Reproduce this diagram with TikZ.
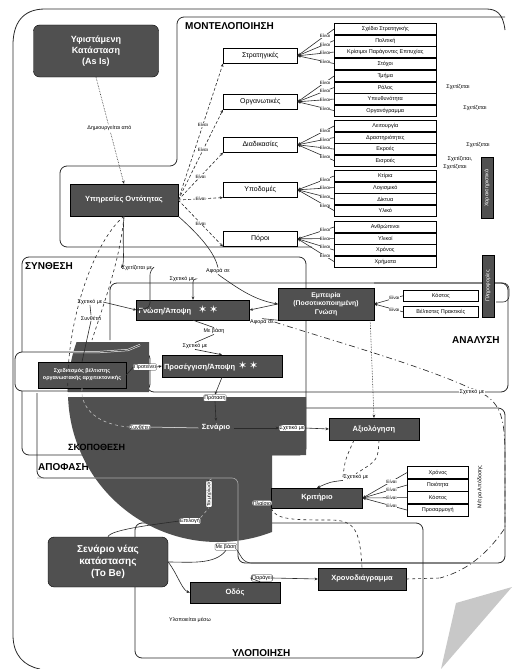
\documentclass[tikz,border=0pt]{standalone}
\usepackage{fontspec}
\setmainfont{Liberation Sans}
\newfontfamily\symfont{DejaVu Sans}
\usetikzlibrary{arrows.meta,calc}
\definecolor{boxgray}{HTML}{505050}
\definecolor{ink}{HTML}{2A2A2A}
\definecolor{curl}{HTML}{C8C8C8}

\begin{document}
\begin{tikzpicture}[x=1pt,y=-1pt,
  region/.style={draw=ink,line width=0.8pt,rounded corners=7pt},
  darkbox/.style={draw=black,fill=boxgray,text=white,align=center,inner sep=1pt,
    font=\bfseries\fontsize{7.5}{8.5}\selectfont},
  topbar/.style={path picture={\draw[line width=2.2pt]
    (path picture bounding box.north west) -- (path picture bounding box.north east);}},
  catbox/.style={draw=black,fill=white,line width=0.6pt,topbar,minimum width=74pt,
    minimum height=15pt,anchor=north west,inner sep=0.5pt,font=\fontsize{7}{8}\selectfont},
  itembox/.style={draw=black,fill=white,line width=0.6pt,topbar,minimum width=102pt,
    minimum height=11.5pt,anchor=north west,inner sep=0.5pt,font=\fontsize{5.5}{6}\selectfont},
  lbl/.style={font=\fontsize{5.4}{6.2}\selectfont,fill=white,inner sep=0.6pt},
  boxlbl/.style={lbl,draw=ink,line width=0.3pt,rounded corners=1pt},
  tiny/.style={font=\fontsize{4.6}{5.2}\selectfont,fill=white,inner sep=0.3pt},
  conn/.style={draw=ink,line width=0.6pt},
  arr/.style={-{Stealth[length=3.2pt,width=2.8pt]}},
  title/.style={font=\bfseries\fontsize{10}{11}\selectfont,anchor=north west,inner sep=0pt},
]
\useasboundingbox (0,0) rectangle (512,669);

% page curl
\fill[curl] (456,603) -- (512,587) -- (441,669) -- cycle;

% outer frame
\draw[ink,line width=0.8pt] (505,30) .. controls (503,13) and (496,9) .. (486,9) -- (45,9)
  .. controls (22,9) and (13,24) .. (13,45) -- (13,635) .. controls (13,655) and (24,666) .. (40,669);

% ---------- regions ----------
\draw[region] (505,17) -- (177,17) -- (177,166) -- (60,166) -- (60,247) -- (312,247);
\node[title] (tmod) at (185,22) {ΜΟΝΤΕΛΟΠΟΙΗΣΗ};

\draw[region,fill=white] (135,523) rectangle (423,658);
\node[title] (tylo) at (232,649) {ΥΛΟΠΟΙΗΣΗ};

\draw[region] (22,257) rectangle (306,455);
\node[title] (tsyn) at (25,262) {ΣΥΝΘΕΣΗ};

\draw[region] (110,340) -- (110,283) -- (508,283) -- (508,392) -- (147,392) -- (147,350);
\node[title] (tana) at (452,336) {ΑΝΑΛΥΣΗ};

\draw[region] (37,393) -- (37,478) -- (238,478) -- (238,563) -- (505,563) -- (505,408) -- (306,408);
\node[title] (tapo) at (38,463) {ΑΠΟΦΑΣΗ};

% surround of the architecture box
\draw[region,fill=white] (15,352) rectangle (150,391);

% large dark disc, visible only through the lower part of the picture
\begin{scope}
  \clip (62,342) rectangle (149,392) (55,397) rectangle (306,455) (55,455) rectangle (272,560);
  \fill[boxgray] (218,392) circle (150pt);
\end{scope}
\draw[white,line width=0.5pt,double=boxgray,double distance=1pt] (70,352) -- (100,352) -- (128,350) -- (140,345);
\draw[ink!40,line width=0.6pt,rounded corners=6pt] (37,478) -- (238,478) -- (238,545);
\node[font=\bfseries\fontsize{9}{10}\selectfont,inner sep=0pt,anchor=west] (tsko) at (68,447) {ΣΚΟΠΟΘΕΣΗ};

% ---------- top: current state ----------
\node[darkbox,rounded corners=6pt,minimum width=125pt,minimum height=52pt,
  font=\bfseries\fontsize{9}{11}\selectfont] (asis) at (96,51) {Υφιστάμενη\\Κατάσταση\\(As Is)};
\node[darkbox,minimum width=108pt,minimum height=32pt] (yp) at (124,200) {Υπηρεσίες Οντότητας};
\draw[conn,densely dotted,arr] (asis.south) -- (yp.north) node[lbl,pos=0.48] {Δημιουργείται από};

% ---------- categories ----------
\node[catbox] (cs) at (223,48) {Στρατηγικές};
\node[catbox] (co) at (223,94) {Οργανωτικές};
\node[catbox] (cd) at (223,137) {Διαδικασίες};
\node[catbox] (cy) at (223,182) {Υποδομές};
\node[catbox] (cp) at (223,231) {Πόροι};

\node[itembox] (s1) at (334,23) {Σχέδιο Στρατηγικής};
\node[itembox] (s2) at (334,34.5) {Πολιτική};
\node[itembox] (s3) at (334,46) {Κρίσιμοι Παράγοντες Επιτυχίας};
\node[itembox] (s4) at (334,57.5) {Στόχοι};

\node[itembox] (o1) at (334,70) {Τμήμα};
\node[itembox] (o2) at (334,81.5) {Ρόλος};
\node[itembox] (o3) at (334,93) {Υπευθυνότητα};
\node[itembox] (o4) at (334,104.5) {Οργανόγραμμα};

\node[itembox] (d1) at (334,120) {Λειτουργία};
\node[itembox] (d2) at (334,131.5) {Δραστηριότητες};
\node[itembox] (d3) at (334,143) {Εκροές};
\node[itembox] (d4) at (334,154.5) {Εισροές};

\node[itembox] (y1) at (334,170) {Κτίρια};
\node[itembox] (y2) at (334,181.5) {Λογισμικό};
\node[itembox] (y3) at (334,193) {Δίκτυα};
\node[itembox] (y4) at (334,204.5) {Υλικό};

\node[itembox] (p1) at (334,221) {Ανθρώπινοι};
\node[itembox] (p2) at (334,232.5) {Υλικοί};
\node[itembox] (p3) at (334,244) {Χρόνος};
\node[itembox] (p4) at (334,255.5) {Χρήματα};

\foreach \g/\c in {s/cs,o/co,d/cd,y/cy,p/cp}{
  \foreach \k in {1,...,4}{
    \draw[conn,arr] (\g\k.west) -- (\c.east) node[tiny,pos=0.25] {Είναι};
  }
}

\foreach \c/\p in {cs/0.55,co/0.55,cd/0.5,cy/0.5,cp/0.5}{
  \draw[conn,densely dashed,arr] (yp.east) -- (\c.south west) node[tiny,pos=\p] {Είναι};
}

\node[lbl] (r1) at (458,87) {Σχετίζεται};
\node[lbl] (r2) at (475,108) {Σχετίζεται};
\node[lbl] (r3) at (478,145) {Σχετίζεται};
\node[lbl] (r4) at (460,159) {Σχετίζεται,};
\node[lbl] (r5) at (455,167) {Σχετίζεται};
\node[darkbox,rotate=90,minimum width=61pt,minimum height=12pt,
  font=\fontsize{5.4}{6}\selectfont] (vchar) at (487,188) {Χαρακτηριστικά};

% ---------- synthesis ----------
\node[darkbox,minimum width=113pt,minimum height=20pt,text width=109pt,align=left] (gn) at (193,310)
  {Γνώση/Άποψη\hspace{7pt}{\symfont\fontsize{11}{11}\selectfont ✶\,✶}};
\node[darkbox,minimum width=120pt,minimum height=22pt,text width=116pt,align=left] (pr) at (222,366)
  {Προσέγγιση/Άποψη\hspace{3pt}{\symfont\fontsize{11}{11}\selectfont ✶\,✶}};
\node[darkbox,minimum width=96pt,minimum height=32pt,font=\bfseries\fontsize{6.8}{8.2}\selectfont] (emp) at (326,304)
  {Εμπειρία\\(Ποσοτικοποιημένη)\\Γνώση};
\node[darkbox,minimum width=88pt,minimum height=26pt,font=\bfseries\fontsize{5.4}{7}\selectfont] (sa) at (82,375)
  {Σχεδιασμός βέλτιστης\\οργανωσιακής αρχιτεκτονικής};

\node[itembox,minimum width=75pt,minimum height=11pt] (e1) at (403,290) {Κόστος};
\node[itembox,minimum width=75pt,minimum height=11pt] (e2) at (403,306) {Βέλτιστες Πρακτικές};
\draw[conn,arr] (e1.west) -- (emp.east) node[tiny,pos=0.3] {Είναι};
\draw[conn,arr] (e2.west) -- (emp.east) node[tiny,pos=0.3] {Είναι};
\draw[ink,line width=0.6pt,rounded corners=6pt] (374,283) -- (509,283) -- (509,302) -- (496,302);
\node[darkbox,rotate=90,minimum width=62pt,minimum height=12pt,
  font=\fontsize{5.4}{6}\selectfont] (vinfo) at (488,286) {Πληροφορίες};

\node[lbl] (l1) at (137,268) {Σχετίζεται με};
\node[lbl] (l2) at (182,279) {Σχετικό με};
\node[lbl] (l3) at (90,302) {Σχετικό με};
\node[lbl] (l4) at (91,318) {Συνθέτει};
\node[lbl] (l5) at (214,331) {Με βάση};
\node[lbl] (l6) at (195,346) {Σχετικό με};
\node[lbl] (l7) at (262,322) {Αφορά σε};
\node[lbl] (l8) at (218,271) {Αφορά σε};
\node[boxlbl] (l9) at (145,367) {Προτείνει};

\draw[conn,arr] (yp.south) .. controls (122,245) and (125,262) .. (l1.west);
\draw[conn,arr,rounded corners=5pt] (l1.east) -- (150,270) -- (150,308) -- (gn.west);
\draw[conn] (yp.south east) .. controls (205,240) and (215,255) .. (l8.north);
\draw[conn,arr] (l8.south) .. controls (240,290) and (255,300) .. (emp.west);
\draw[conn,arr,rounded corners=3pt] (l2.east) -| (gn.north);
\draw[conn,arr] (l3.east) -- (gn.west);
\draw[conn] (l4.south) -- (sa.north);
\draw[conn] (l4.north) -- (l3.south);
\draw[conn,arr] (emp.west) -- (gn.east);
\draw[conn] (gn.south) -- (l5.north);
\draw[conn] (l5.south) -- (l6.north);
\draw[conn,arr] (l6.south) -- (pr.north);
\draw[conn] (sa.east) -- (l9.west);
\draw[conn,arr] (l9.east) -- (pr.west);
\draw[conn] (emp.south west) -- (l7.north);

% dashed sweeps on the left side
\draw[ink,line width=0.6pt,dashed] (yp.south) .. controls (95,240) and (65,320) .. (68,395);
\draw[ink,line width=0.6pt,dashed] (yp.south) .. controls (120,260) and (105,300) .. (92,340);

% ---------- decision ----------
\node[text=white,font=\bfseries\fontsize{7.5}{8.5}\selectfont] (sn) at (216,428) {Σενάριο};
\node[boxlbl] (l10) at (215,398) {Πρόταση};
\node[boxlbl] (l11) at (140,427) {Συνθέτει};
\node[boxlbl] (l12) at (292,428) {Σχετικό με};
\draw[conn,arr] (pr.south) -- (l10.north);
\draw[conn,arr] (l10.south) -- (sn.north);
\draw[white!75!black,line width=0.6pt,dashed] (sa.south) .. controls (80,410) and (100,425) .. (l11.west);
\draw[white,line width=0.5pt] (l11.east) -- (sn.west);

\node[darkbox,minimum width=90pt,minimum height=22pt] (avx) at (374,429) {Αξιολόγηση};
\node[darkbox,minimum width=91pt,minimum height=20pt] (kr) at (317,498) {Κριτήριο};
\draw[conn,arr] (sn.east) -- (l12.west);
\draw[conn,arr] (l12.east) -- (avx.west);
\draw[ink,line width=0.6pt,densely dotted,arr] (emp.south east) ++(-4,0) -- (avx.north);

\node[itembox,minimum width=61pt,minimum height=12.5pt] (k1) at (407,466) {Χρόνος};
\node[itembox,minimum width=61pt,minimum height=12.5pt] (k2) at (407,478.5) {Ποιότητα};
\node[itembox,minimum width=61pt,minimum height=12.5pt] (k3) at (407,491) {Κόστος};
\node[itembox,minimum width=61pt,minimum height=12.5pt] (k4) at (407,503.5) {Προσαρμογή};
\foreach \k in {1,...,4}{
  \draw[conn,arr] (k\k.west) -- (kr.east) node[tiny,pos=0.35] {Είναι};
}
\node[rotate=90,font=\fontsize{5.4}{6}\selectfont,inner sep=0pt] (vmes) at (480,487) {Μέτρα Απόδοσης};

\node[lbl] (l13) at (356,477) {Σχετικό με};
\draw[conn,dashed] (avx.south) ++(-20,0) .. controls (345,460) .. (l13.west);
\draw[conn,dashed] (avx.south) ++(5,0) .. controls (378,460) .. (l13.north);
\draw[conn,arr] (l13.south west) .. controls (330,482) .. (kr.north);

\node[boxlbl] (l14) at (190,521) {Επιλογή};
\node[boxlbl,rotate=90,font=\fontsize{4.8}{5.4}\selectfont] (l15) at (209,494) {Τεκμηρίωση};
\node[boxlbl] (l16) at (262,503) {Πλαίσιο};
\draw[ink!35,line width=0.6pt,dashed] (l14.north east) -- (l15.west);
\draw[ink!35,line width=0.6pt,dashed] (l15.east) -- (213,478);

% long dash-dot sweep round the right side
\draw[ink,line width=0.65pt,dash pattern=on 6pt off 3pt on 1pt off 3pt]
  (l7.east) .. controls (330,340) and (420,365) .. (470,388)
  .. controls (505,400) and (505,420) .. (505,470) -- (505,528) .. controls (490,550) and (470,570) .. (440,578);
\node[lbl] (l17) at (472,392) {Σχετικό με};

% ---------- implementation ----------
\node[darkbox,rounded corners=6pt,minimum width=120pt,minimum height=50pt,
  font=\bfseries\fontsize{10}{12}\selectfont] (tobe) at (108,562) {Σενάριο νέας\\κατάστασης\\(To Be)};
\node[darkbox,minimum width=90pt,minimum height=21pt] (odos) at (235,592.5) {Οδός};
\node[darkbox,minimum width=88pt,minimum height=22pt] (chr) at (362,579) {Χρονοδιάγραμμα};
\node[boxlbl] (l18) at (226,547) {Με βάση};
\node[boxlbl] (l19) at (262,578) {Παράγει};
\node[font=\fontsize{5.4}{6}\selectfont] (l20) at (190,620) {Υλοποιείται μέσω};

\draw[conn,arr] (tobe.east) .. controls (178,575) and (182,590) .. (odos.west);
\draw[conn] (tobe.east) .. controls (190,562) and (215,565) .. (l18.south);
\draw[ink!40,line width=0.6pt,rounded corners=5pt] (l18.east) -- (238,545);
\draw[conn,rounded corners=6pt] (l18.south east) -- (245,563) -- (470,563);
\draw[conn] (tobe.north) .. controls (110,530) and (150,525) .. (l14.west);
\draw[conn] (odos.north east) ++(-20,0) .. controls (250,578) .. (l19.west);
\draw[conn,arr] (l19.east) -- (chr.west);
\draw[conn,dashed] (kr.south west) .. controls (275,520) and (295,520) .. (330,520)
  .. controls (355,520) and (360,530) .. (chr.north);
\draw[conn,dashed] (chr.east) -- (440,578);

\end{tikzpicture}
\end{document}
